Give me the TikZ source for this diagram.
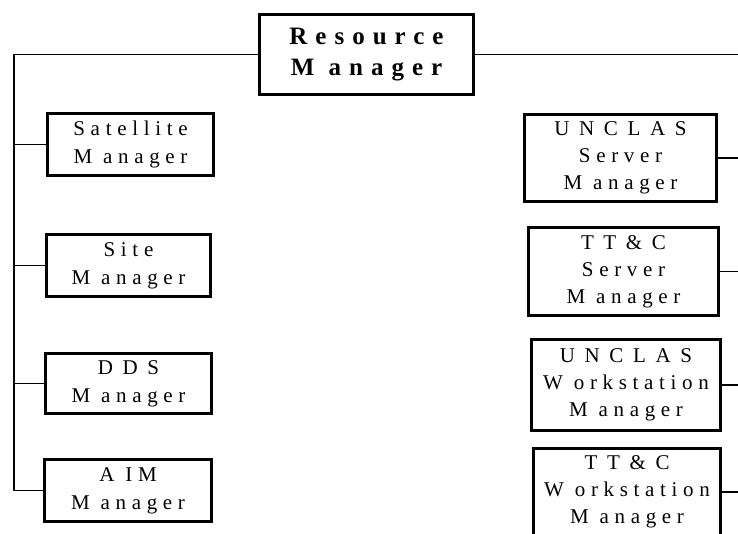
\documentclass[tikz,border=0pt]{standalone}
\usepackage{fontspec}
\newfontfamily\boxfont{Liberation Serif}[LetterSpace=27]
\newfontfamily\capsfont{Liberation Serif}[LetterSpace=46]
\newfontfamily\headfont{Liberation Serif}[LetterSpace=32]
% wider tracking for all-capital words
\newcommand{\wide}[1]{{\capsfont #1}}

\tikzset{
  mgr/.style={draw, line width=3.4pt, align=center, inner sep=0pt,
              font=\boxfont\fontsize{21}{28}\selectfont},
  tall/.style={mgr, font=\boxfont\fontsize{21}{27}\selectfont},
  head/.style={draw, line width=3.4pt, align=center, inner sep=0pt,
               font=\headfont\bfseries\fontsize{25}{31}\selectfont},
  link/.style={line width=1.5pt},
  trunk/.style={line width=1.8pt}
}

\begin{document}
\begin{tikzpicture}[x=1pt, y=-1pt]
  \useasboundingbox (0,0) rectangle (738,534);
  \clip (0,0) rectangle (738,534);

  % top of the tree
  \node[head, minimum width=214pt, minimum height=80pt] (rm) at (366.5,54.5)
       {Resource\\M anager};

  % left column
  \node[mgr, minimum width=166pt, minimum height=62pt] (sat)  at (130.5,144.5) {Satellite\\M anager};
  \node[mgr, minimum width=164pt, minimum height=62pt] (site) at (128.5,265.5) {Site\\M anager};
  \node[mgr, minimum width=166pt, minimum height=60pt] (dds)  at (128.5,383.5) {\wide{DDS}\\M anager};
  \node[mgr, minimum width=167pt, minimum height=62pt] (aim)  at (128,490.5)   {A IM\\M anager};

  % right column
  \node[tall, minimum width=192pt, minimum height=87pt] (us) at (620.5,158)   {\wide{UNCLAS}\\Server\\M anager};
  \node[tall, minimum width=190pt, minimum height=88pt] (ts) at (623.5,271.5) {\wide{TT\&C}\\Server\\M anager};
  \node[tall, minimum width=189pt, minimum height=91pt] (uw) at (626,385)     {\wide{UNCLAS}\\W orkstation\\M anager};
  \node[tall, minimum width=187pt, minimum height=87pt] (tw) at (627,492)     {\wide{TT\&C}\\W orkstation\\M anager};

  % bus positions
  \coordinate (bus) at (14,0);
  \coordinate (edge) at (738,0);

  % left bus
  \draw[trunk] (rm.west) -| (aim.west -| bus) -- (aim.west);
  \foreach \b in {sat, site, dds}
    \draw[link] (\b.west) -- (\b.west -| bus);

  % right bus
  \draw[trunk] (rm.east) -- (rm.east -| edge);
  \foreach \b in {us, ts, uw, tw}
    \draw[link] (\b.east) -- (\b.east -| edge);
\end{tikzpicture}
\end{document}
